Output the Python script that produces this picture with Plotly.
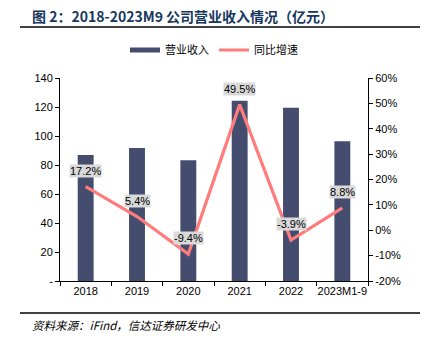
import plotly.graph_objects as go

categories = ["2018", "2019", "2020", "2021", "2022", "2023M1-9"]
revenue = [86.9, 91.7, 83.2, 124.3, 119.5, 96.3]
growth = [17.2, 5.4, -9.4, 49.5, -3.9, 8.8]
growth_labels = ["17.2%", "5.4%", "-9.4%", "49.5%", "-3.9%", "8.8%"]
left_ticks = [0, 20, 40, 60, 80, 100, 120, 140]
left_ticktext = ["-", "20", "40", "60", "80", "100", "120", "140"]
right_ticks = [-20, -10, 0, 10, 20, 30, 40, 50, 60]
right_ticktext = ["-20%", "-10%", "0%", "10%", "20%", "30%", "40%", "50%", "60%"]

BAR = "#444D6E"
LINE = "#FF7C7C"
FONT = "Liberation Sans, Noto Sans CJK SC, Arial, sans-serif"

fig = go.Figure()
fig.add_trace(go.Bar(x=categories, y=revenue, name="营业收入", marker_color=BAR,
                     marker_line_width=0, width=0.31, yaxis="y", showlegend=False))
# legend-only entry so the bar legend key is drawn as a wide band like the original
fig.add_trace(go.Scatter(x=[None], y=[None], name="营业收入", mode="lines",
                         line=dict(color=BAR, width=5), yaxis="y"))
fig.add_trace(go.Scatter(x=categories, y=growth, name="同比增速", mode="lines",
                         line=dict(color=LINE, width=3.2), yaxis="y2"))

for i, (g, t) in enumerate(zip(growth, growth_labels)):
    fig.add_annotation(x=i, y=g, xref="x", yref="y2", text=t, showarrow=False,
                       yshift=16, bgcolor="#D9D9D9", borderpad=0,
                       font=dict(size=11, color="#000000", family=FONT))

fig.add_annotation(x=-0.097, y=1.305, xref="paper", yref="paper", xanchor="left",
                   yanchor="middle", showarrow=False,
                   text="<b>图 2：2018-2023M9 公司营业收入情况（亿元）</b>",
                   font=dict(size=14, color="#17375E", family="Noto Sans CJK SC, sans-serif"))
fig.add_annotation(x=-0.097, y=-0.215, xref="paper", yref="paper", xanchor="left",
                   yanchor="middle", showarrow=False,
                   text="<i>资料来源：iFind，信达证券研发中心</i>",
                   font=dict(size=11.5, color="#000000", family="Noto Sans CJK SC, sans-serif"))

fig.add_shape(type="line", xref="paper", yref="paper", x0=-0.13, x1=1.169, y0=1.251, y1=1.251,
              line=dict(color="#000000", width=1.5))
fig.add_shape(type="line", xref="paper", yref="paper", x0=-0.13, x1=1.169, y0=-0.158, y1=-0.158,
              line=dict(color="#000000", width=1.5))

fig.update_layout(
    width=426, height=350,
    margin=dict(l=60, r=58, t=78, b=69),
    paper_bgcolor="white", plot_bgcolor="white",
    font=dict(family=FONT, size=11, color="#000000"),
    showlegend=True,
    legend=dict(orientation="h", x=0.5, xanchor="center", y=1.138, yanchor="middle",
                font=dict(size=11, family="Noto Sans CJK SC, sans-serif"),
                itemwidth=30, bgcolor="rgba(0,0,0,0)"),
    xaxis=dict(type="category", range=[-0.5, len(categories) - 0.5], showline=True,
               linecolor="#000000", linewidth=1, ticks="outside",
               tickson="boundaries", ticklen=4, tickcolor="#000000", tickangle=0,
               tickfont=dict(size=11), showgrid=False, zeroline=False),
    yaxis=dict(range=[0, 140], tickvals=left_ticks, ticktext=left_ticktext,
               showline=True, linecolor="#000000", linewidth=1, ticks="outside",
               ticklen=4, tickcolor="#000000", showgrid=False, zeroline=False,
               tickfont=dict(size=11)),
    yaxis2=dict(range=[-20, 60], tickvals=right_ticks, ticktext=right_ticktext,
                overlaying="y", side="right", showline=True, linecolor="#000000",
                linewidth=1, ticks="outside", ticklen=4, tickcolor="#000000",
                showgrid=False, zeroline=False, tickfont=dict(size=11)),
    bargap=0.69,
)

fig.write_html("out.html")
